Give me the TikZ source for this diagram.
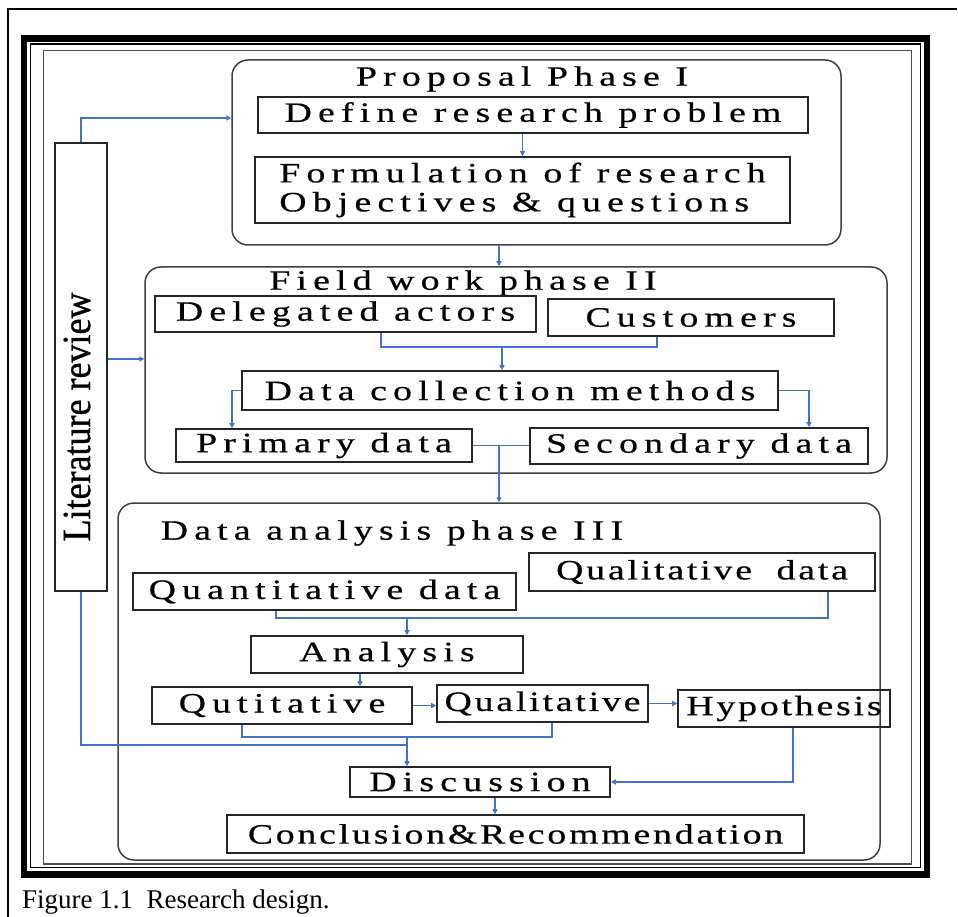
\documentclass[tikz,border=0pt]{standalone}
\usepackage{fontspec}
\setmainfont{Liberation Serif}
\newfontfamily\boxfont[FakeStretch=1.35,LetterSpace=22,FakeBold=0.6]{Liberation Serif}
\newfontfamily\tightfont[FakeStretch=1.35,LetterSpace=10,FakeBold=0.6]{Liberation Serif}
\newfontfamily\litfont[FakeStretch=0.9,FakeBold=0.8]{Liberation Serif}
\usetikzlibrary{calc,shapes,positioning}
\usetikzlibrary{arrows.meta}
\tikzset{>={Triangle[width=5pt,length=5pt]}}
\definecolor{linkblue}{RGB}{68,114,196}

\begin{document}
\begin{tikzpicture}[x=1pt,y=-1pt]
    \tikzstyle{phase} = [draw=black!75, line width=1.5pt, rectangle, rounded corners=16pt, inner sep=0pt]
    \tikzstyle{bnode} = [draw=black!85, line width=1.6pt, rectangle, inner sep=0pt, align=center, font=\boxfont\fontsize{28}{29}\selectfont]
    \tikzstyle{tnode} = [inner sep=0pt, font=\boxfont\fontsize{28}{29}\selectfont]
    \tikzstyle{link} = [draw=linkblue, line width=1.6pt]
    \useasboundingbox (0,0) rectangle (958,917);

    % frames
    \draw[line width=1.2pt] (8,917) -- (8,9) -- (957,9);
    \draw[line width=6.6pt] (24,38.3) rectangle (927,874.5);
    \draw[line width=1.3pt] (30.5,44) rectangle (920.5,867.5);
    \draw[line width=1.5pt, black!70] (43.3,50.5) rectangle (911.5,864);

    % phases
    \node[phase, minimum width=609pt, minimum height=185pt] (p1) at (536.5,152.5) {};
    \node[phase, minimum width=742pt, minimum height=206pt] (p2) at (516,370) {};
    \node[phase, minimum width=762pt, minimum height=357pt] (p3) at (499,681.5) {};
    \node[tnode] (t1) at (522,79) {Proposal Phase I};
    \node[tnode] (t2) at (463,283) {Field work phase II};
    \node[tnode] (t3) at (392,533) {Data analysis phase III};

    \node[draw=black!85, line width=1.6pt, minimum width=52pt, minimum height=448pt] (lit) at (81,367) {};
    \node[rotate=90, inner sep=0pt, font=\litfont\fontsize{40}{40}\selectfont] (littext) at (77,417) {Literature review};

    \node[bnode, minimum width=550pt, minimum height=36pt] (def) at (533,115) {Define research problem};
    \node[bnode, minimum width=535pt, minimum height=66pt, align=left] (form) at (522.5,190) {Formulation of research\\Objectives \& questions};

    \node[bnode, minimum width=381pt, minimum height=36pt] (del) at (345.5,314) {Delegated actors};
    \node[bnode, minimum width=286pt, minimum height=37pt] (cus) at (691,317.5) {Customers};
    \node[bnode, minimum width=536pt, minimum height=39pt] (dcm) at (510,390.5) {Data collection methods};
    \node[bnode, minimum width=296pt, minimum height=33pt] (pri) at (324,445.5) {Primary data};
    \node[bnode, minimum width=338pt, minimum height=36pt] (sec) at (699,446) {Secondary data};

    \node[bnode, minimum width=383pt, minimum height=37pt] (qnt) at (324.5,591.5) {Quantitative data};
    \node[bnode, minimum width=346pt, minimum height=38pt, font=\tightfont\fontsize{28}{29}\selectfont] (qld) at (702,572) {Qualitative\ \ data};
    \node[bnode, minimum width=272pt, minimum height=37pt] (ana) at (387,654.5) {Analysis};
    \node[bnode, minimum width=260pt, minimum height=37pt] (qut) at (282,705.5) {Qutitative};
    \node[bnode, minimum width=211pt, minimum height=37pt, font=\tightfont\fontsize{28}{29}\selectfont] (ql) at (542.5,703.5) {Qualitative};
    \node[bnode, minimum width=212pt, minimum height=37pt, font=\tightfont\fontsize{28}{29}\selectfont] (hyp) at (784,708.5) {Hypothesis};
    \node[bnode, minimum width=260pt, minimum height=30pt] (disc) at (480,782) {Discussion};
    \node[bnode, minimum width=577pt, minimum height=38pt, font=\tightfont\fontsize{28}{29}\selectfont] (con) at (515.5,834) {Conclusion\&Recommendation};

    \node[anchor=base west, inner sep=0pt, font=\fontsize{27}{27}\selectfont] (cap) at (22,908) {Figure 1.1\ \ Research design.};

    % junctions
    \coordinate (j1) at (502,347);
    \coordinate (j2) at (407,618);
    \coordinate (j3) at (407,737);
    \coordinate (j4) at (407,745);

    % literature review links
    \draw[link,->] (lit.north) |- ([yshift=34.5pt]p1.west);
    \draw[link,->] ([yshift=8pt]lit.east) -- ([yshift=8pt]lit.east -| p2.west);
    \draw[link] (lit.south) |- (j4);

    % phase I
    \draw[link,->] (def.south -| form.north) -- (form.north);
    \draw[link,->] (p1.south -| p3.north) -- (p2.north -| p3.north);

    % phase II
    \draw[link] ([xshift=35.5pt]del.south) |- (j1) -| ([xshift=-34pt]cus.south);
    \draw[link,->] (j1) -- (j1 |- dcm.north);
    \draw[link,->] (dcm.west) -| ([xshift=-92pt]pri.north);
    \draw[link,->] (dcm.east) -| ([xshift=110pt]sec.north);
    \draw[link] (pri.east) -- (pri.east -| sec.west);
    \draw[link,->] (pri.east -| p3.north) -- (p3.north);

    % phase III
    \draw[link] ([xshift=-48.5pt]qnt.south) |- (j2) -| ([xshift=126pt]qld.south);
    \draw[link,->] (j2) -- (j2 |- ana.north);
    \draw[link,->] ([xshift=-27pt]ana.south) -- ([xshift=-27pt]ana.south |- qut.north);
    \draw[link,->] (qut.east) -- (qut.east -| ql.west);
    \draw[link,->] (ql.east) -- (ql.east -| hyp.west);
    \draw[link] ([xshift=-40pt]qut.south) |- (j3) -| ([xshift=9.5pt]ql.south);
    \draw[link,->] (j3) -- (j3 |- disc.north);
    \draw[link,->] ([xshift=9pt]hyp.south) |- (disc.east);
    \draw[link,->] ([xshift=15pt]disc.south) -- ([xshift=15pt]disc.south |- con.north);
\end{tikzpicture}
\end{document}
